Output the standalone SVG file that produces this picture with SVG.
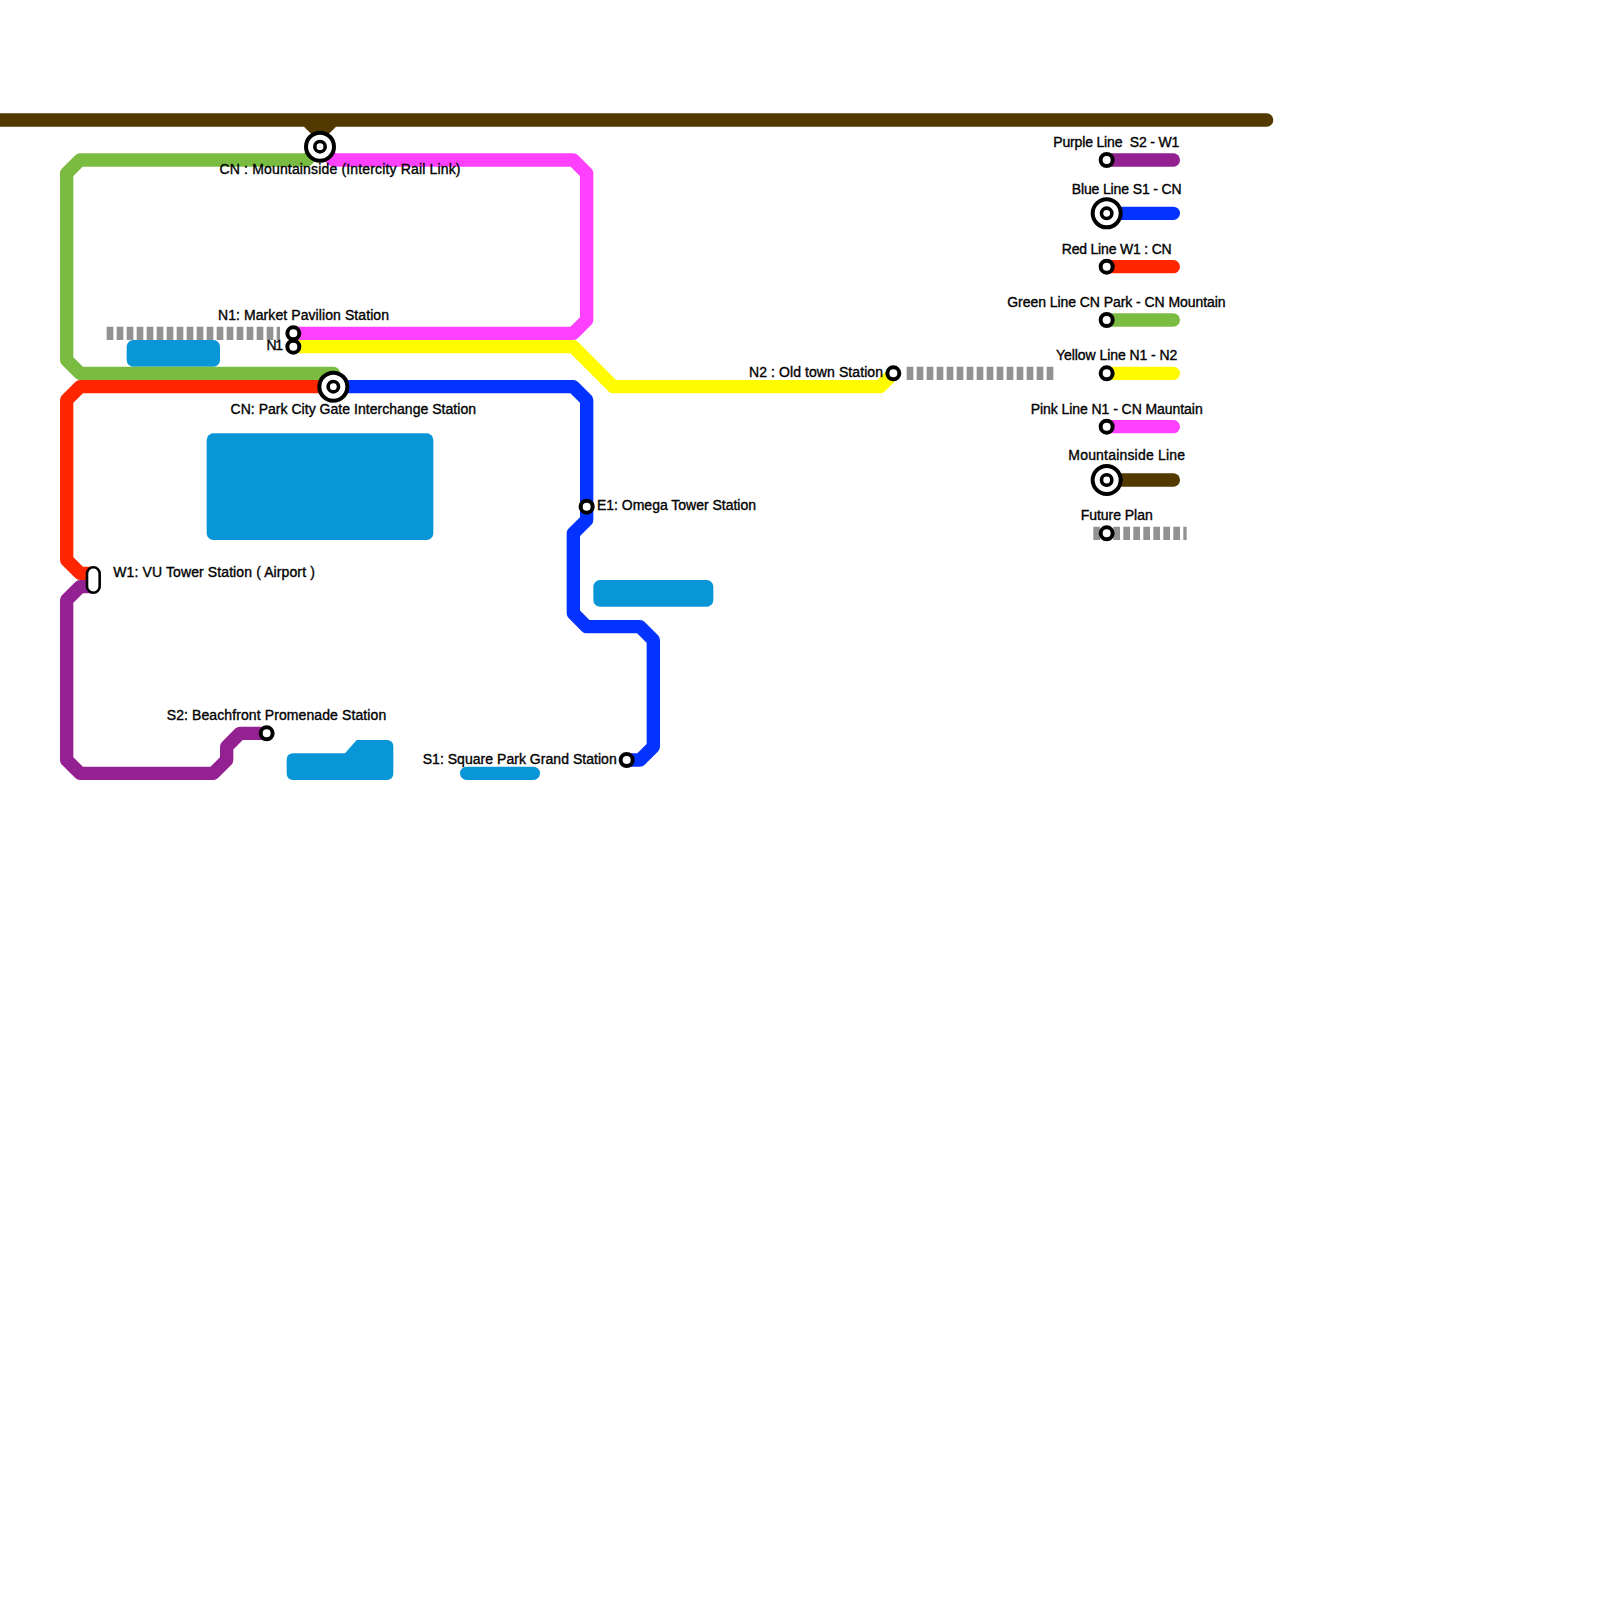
<svg xmlns="http://www.w3.org/2000/svg" width="1600" height="1600" viewBox="0 0 1600 1600">
<style>
.l{fill:none;stroke-width:13.33;stroke-linecap:round;stroke-linejoin:round}
.f{fill:none;stroke:#929292;stroke-width:13.33;stroke-dasharray:6.67 3.33}
.w{fill:#0896d7}
.s{fill:#fff;stroke:#000;stroke-width:4}
.o{fill:#fff;stroke:#000;stroke-width:4}
.i{fill:#fff;stroke:#000;stroke-width:3.6}
text{font-family:"Liberation Sans",Arial,sans-serif;font-size:14px;fill:#000;stroke:#000;stroke-width:.35}
</style>
<defs>
<g id="st"><circle r="6" class="s"/></g>
<g id="ic"><circle r="14" class="o"/><circle r="5.2" class="i"/></g>
</defs>
<rect width="1600" height="1600" fill="#fff"/>
<g id="water">
<rect class="w" x="126.67" y="340" width="93.33" height="26.67" rx="6.67"/>
<rect class="w" x="206.67" y="433.33" width="226.67" height="106.67" rx="6.67"/>
<rect class="w" x="593.33" y="580" width="120" height="26.67" rx="6.67"/>
<path class="w" d="M293.33 753.33H345L356.67 740H386.67Q393.33 740 393.33 746.67V773.33Q393.33 780 386.67 780H293.33Q286.67 780 286.67 773.33V760Q286.67 753.33 293.33 753.33Z"/>
<rect class="w" x="460" y="766.67" width="80" height="13.33" rx="6.67"/>
</g>
<g id="connectors">
<path class="l" stroke="#523900" d="M-10 120H1266.67M306.67 120L320 133.33L333.33 120"/>
<path class="l" stroke="#523900" d="M320 146.67V133.33"/>
<path class="f" d="M106.67 333.33H280"/>
<path class="f" d="M906.67 373.33H1053.33"/>
<path class="l" stroke="#7abc42" d="M320 146.67L306.67 160H80L66.67 173.33V360L80 373.33H333.33"/>
<path class="l" stroke="#ff40ff" d="M320 146.67L333.33 160H573.33L586.67 173.33V320L573.33 333.33H293.33"/>
<path class="l" stroke="#fffb00" d="M293.33 346.67H573.33L613.33 386.67H880L893.33 373.33"/>
<path class="l" stroke="#ff2600" d="M333.33 386.67H80L66.67 400V560L80 573.33H93.33"/>
<path class="l" stroke="#942192" d="M93.33 586.67H80L66.67 600V760L80 773.33H213.33L226.67 760V746.67L240 733.33H266.67"/>
<path class="l" stroke="#0433ff" d="M333.33 386.67H573.33L586.67 400V520L573.33 533.33V613.33L586.67 626.67H640L653.33 640V746.67L640 760H626.67"/>
<path class="l" stroke="#942192" d="M1106.67 160H1173.33"/>
<path class="l" stroke="#0433ff" d="M1106.67 213.33H1173.33"/>
<path class="l" stroke="#ff2600" d="M1106.67 266.67H1173.33"/>
<path class="l" stroke="#7abc42" d="M1106.67 320H1173.33"/>
<path class="l" stroke="#fffb00" d="M1106.67 373.33H1173.33"/>
<path class="l" stroke="#ff40ff" d="M1106.67 426.67H1173.33"/>
<path class="l" stroke="#523900" d="M1106.67 480H1173.33"/>
<path class="f" d="M1093.33 533.33H1186.67"/>
</g>
<g id="cn-mountainside"><use href="#ic" x="320" y="146.67"/><text x="219.5" y="173.7" textLength="241">CN : Mountainside (Intercity Rail Link)</text></g>
<g id="n1-market"><use href="#st" x="293.33" y="333.33"/><text x="218" y="320.2" textLength="171">N1: Market Pavilion Station</text></g>
<g id="n1"><use href="#st" x="293.33" y="346.67"/><text x="266.5" y="350.2" textLength="16.5">N1</text></g>
<g id="cn-park"><use href="#ic" x="333.33" y="386.67"/><text x="230.5" y="413.7" textLength="245.5">CN: Park City Gate Interchange Station</text></g>
<g id="e1"><use href="#st" x="586.67" y="506.67"/><text x="597" y="510.2" textLength="159">E1: Omega Tower Station</text></g>
<g id="n2"><use href="#st" x="893.33" y="373.33"/><text x="749" y="377.2" textLength="134">N2 : Old town Station</text></g>
<g id="w1"><rect x="87" y="567.2" width="12.67" height="25.6" rx="6.33" fill="#fff" stroke="#000" stroke-width="2.6"/><text x="113.3" y="576.7" textLength="201.5">W1: VU Tower Station ( Airport )</text></g>
<g id="s2"><use href="#st" x="266.67" y="733.33"/><text x="166.7" y="720.2" textLength="219.5">S2: Beachfront Promenade Station</text></g>
<g id="s1"><use href="#st" x="626.67" y="760"/><text x="422.7" y="763.7" textLength="194">S1: Square Park Grand Station</text></g>
<g id="legend-purple"><use href="#st" x="1106.67" y="160"/><text x="1053.3" y="147" xml:space="preserve" textLength="126">Purple Line  S2 - W1</text></g>
<g id="legend-blue"><use href="#ic" x="1106.67" y="213.33"/><text x="1071.7" y="193.7" textLength="110">Blue Line S1 - CN</text></g>
<g id="legend-red"><use href="#st" x="1106.67" y="266.67"/><text x="1061.7" y="253.7" textLength="110">Red Line W1 : CN</text></g>
<g id="legend-green"><use href="#st" x="1106.67" y="320"/><text x="1007.3" y="307" textLength="218.3">Green Line CN Park - CN Mountain</text></g>
<g id="legend-yellow"><use href="#st" x="1106.67" y="373.33"/><text x="1056" y="360.3" textLength="121.3">Yellow Line N1 - N2</text></g>
<g id="legend-pink"><use href="#st" x="1106.67" y="426.67"/><text x="1030.7" y="413.7" textLength="172">Pink Line N1 - CN Mauntain</text></g>
<g id="legend-brown"><use href="#ic" x="1106.67" y="480"/><text x="1068.3" y="460.3" textLength="116.7">Mountainside Line</text></g>
<g id="legend-future"><use href="#st" x="1106.67" y="533.33"/><text x="1080.7" y="520.3" textLength="72">Future Plan</text></g>
</svg>
